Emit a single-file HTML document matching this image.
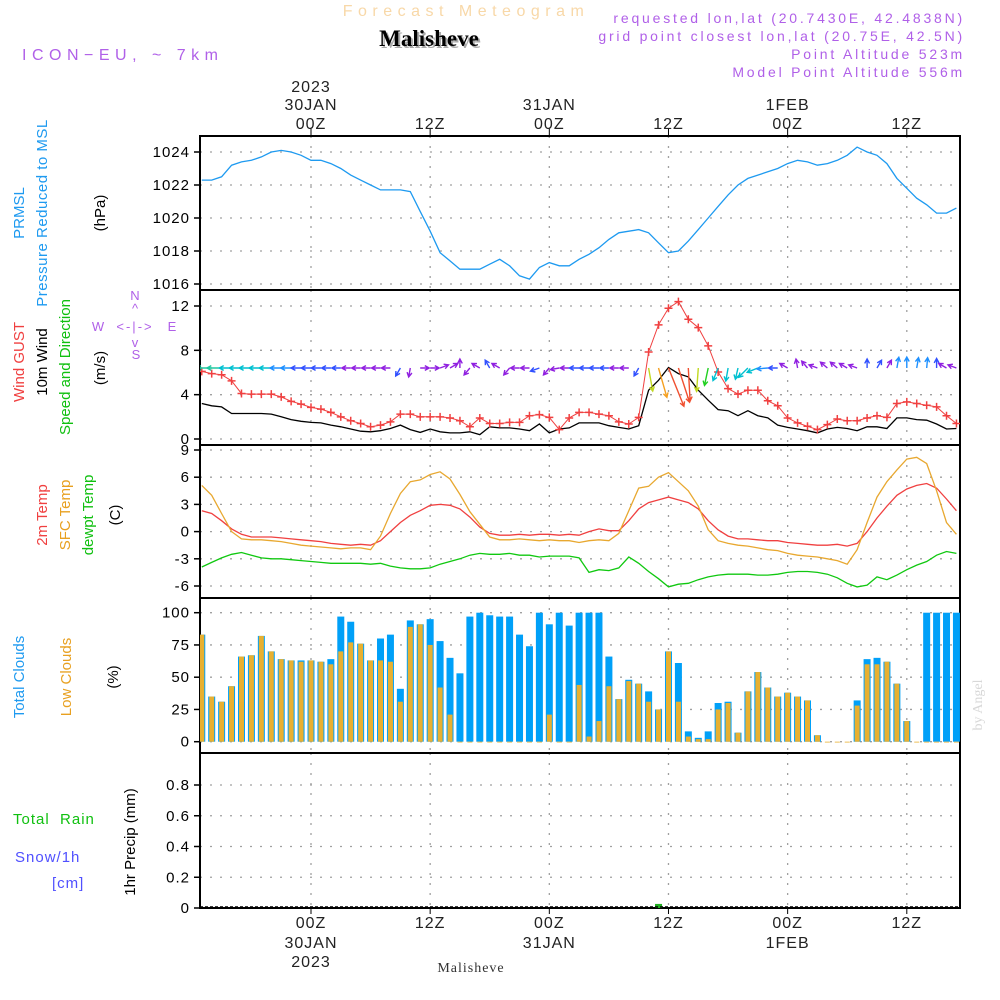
<!DOCTYPE html>
<html><head><meta charset="utf-8"><style>
html,body{margin:0;padding:0;background:#fff;width:1000px;height:1000px;overflow:hidden}
svg{display:block;font-family:"Liberation Sans",sans-serif}
</style></head><body>
<svg id="chart" width="1000" height="1000" viewBox="0 0 1000 1000">
<text x="466" y="16" font-size="16" fill="#f8d8a8" text-anchor="middle" letter-spacing="5.5">Forecast Meteogram</text>
<text x="431" y="48" font-size="23" font-weight="bold" font-family="Liberation Serif,serif" fill="#aaa" text-anchor="middle">Malisheve</text>
<text x="429" y="46" font-size="23" font-weight="bold" font-family="Liberation Serif,serif" fill="#000" text-anchor="middle">Malisheve</text>
<text x="22" y="60" font-size="16" fill="#b060e8" letter-spacing="5.5">ICON−EU, ~ 7km</text>
<g font-size="14" fill="#b060e8" text-anchor="end" letter-spacing="2.8">
<text x="965" y="23">requested lon,lat (20.7430E, 42.4838N)</text>
<text x="965" y="41">grid point closest lon,lat (20.75E, 42.5N)</text>
<text x="965" y="59">Point Altitude 523m</text>
<text x="965" y="77">Model Point Altitude 556m</text>
</g>
<g id="axes"></g>
<g id="marks"></g>
<g font-size="15" fill="#000">
<text transform="translate(24,213) rotate(-90)" text-anchor="middle" fill="#1e9af0">PRMSL</text>
<text transform="translate(47,213) rotate(-90)" text-anchor="middle" fill="#1e9af0" letter-spacing="0.5">Pressure Reduced to MSL</text>
<text transform="translate(105,213) rotate(-90)" text-anchor="middle">(hPa)</text>
<text transform="translate(24,362) rotate(-90)" text-anchor="middle" fill="#f04040">Wind GUST</text>
<text transform="translate(47,362) rotate(-90)" text-anchor="middle">10m Wind</text>
<text transform="translate(70,367) rotate(-90)" text-anchor="middle" fill="#10c010">Speed and Direction</text>
<text transform="translate(105,368) rotate(-90)" text-anchor="middle">(m/s)</text>
<text transform="translate(47,515) rotate(-90)" text-anchor="middle" fill="#f04040">2m Temp</text>
<text transform="translate(70,515) rotate(-90)" text-anchor="middle" fill="#e8a020">SFC Temp</text>
<text transform="translate(93,515) rotate(-90)" text-anchor="middle" fill="#10c010">dewpt Temp</text>
<text transform="translate(120,515) rotate(-90)" text-anchor="middle">(C)</text>
<text transform="translate(24,677) rotate(-90)" text-anchor="middle" fill="#1e9af0">Total Clouds</text>
<text transform="translate(71,677) rotate(-90)" text-anchor="middle" fill="#e8a020">Low Clouds</text>
<text transform="translate(118,677) rotate(-90)" text-anchor="middle">(%)</text>
<text x="13" y="824" fill="#10c010" xml:space="preserve" letter-spacing="1">Total  Rain</text>
<text x="15" y="862" fill="#5050ff" letter-spacing="1">Snow/1h</text>
<text x="52" y="888" fill="#5050ff" letter-spacing="1">[cm]</text>
<text transform="translate(135,842) rotate(-90)" text-anchor="middle">1hr Precip (mm)</text>
</g>
<g font-size="13" fill="#b060e8" text-anchor="middle">
<text x="135" y="300">N</text><text x="135" y="313">^</text>
<text x="98" y="331">W</text><text x="135" y="331" letter-spacing="2">&lt;-|-&gt;</text><text x="172" y="331">E</text>
<text x="135" y="347">v</text><text x="136" y="359">S</text>
</g>
<text transform="translate(982,705) rotate(-90)" font-size="14" font-family="Liberation Serif,serif" fill="#d8d8d8" text-anchor="middle">by Angel</text>
<text x="471" y="972" font-size="14" font-family="Liberation Serif,serif" fill="#333" text-anchor="middle" letter-spacing="1">Malisheve</text>
</svg>
<script>
const hours = [];for (let h = -11; h <= 65; h++) hours.push(h);
const pressure = [1022.3,1022.3,1022.5,1023.2,1023.4,1023.5,1023.7,1024.0,1024.1,1024.0,1023.8,1023.5,1023.5,1023.3,1023.0,1022.6,1022.3,1022.0,1021.7,1021.7,1021.7,1021.6,1020.4,1019.2,1017.9,1017.4,1016.9,1016.9,1016.9,1017.2,1017.5,1017.1,1016.5,1016.3,1017.0,1017.3,1017.1,1017.1,1017.5,1017.8,1018.2,1018.7,1019.1,1019.2,1019.3,1019.1,1018.5,1017.9,1018.0,1018.6,1019.3,1020.0,1020.7,1021.4,1022.0,1022.4,1022.6,1022.8,1023.0,1023.3,1023.5,1023.4,1023.2,1023.3,1023.5,1023.8,1024.3,1024.0,1023.8,1023.3,1022.4,1021.8,1021.2,1020.8,1020.3,1020.3,1020.6];
const gust = [6.1,5.9,5.8,5.25,4.1,4.05,4.05,4.05,3.8,3.4,3.15,2.85,2.7,2.4,2.0,1.65,1.4,1.1,1.25,1.55,2.25,2.25,2.0,2.0,2.0,1.9,1.65,1.1,1.9,1.4,1.4,1.5,1.5,2.1,2.2,1.95,0.85,1.9,2.4,2.4,2.25,2.1,1.55,1.35,1.95,7.85,10.3,11.8,12.4,10.8,10.05,8.4,6.05,4.55,4.05,4.4,4.4,3.45,3.0,1.9,1.45,1.15,0.85,1.3,1.8,1.65,1.65,1.9,2.1,1.95,3.2,3.35,3.2,3.05,2.9,2.1,1.4];
const wind = [3.2,3.0,2.9,2.3,2.3,2.3,2.3,2.25,2.0,1.75,1.6,1.5,1.45,1.25,1.1,0.9,0.7,0.65,0.75,0.95,1.25,0.85,0.6,0.9,0.65,0.55,0.55,0.65,0.4,1.1,1.0,1.0,0.9,0.75,1.35,0.55,0.9,1.0,1.45,1.45,1.45,1.2,1.05,0.9,1.2,4.4,5.3,6.45,5.9,5.6,4.4,3.5,2.65,2.55,2.1,2.55,2.1,1.9,1.25,1.05,0.9,0.75,0.55,0.9,1.05,0.95,0.75,1.1,1.1,0.95,1.9,1.9,1.75,1.7,1.35,0.9,0.95];
const windArrowAngle = [180,180,180,180,180,180,180,180,180,180,180,180,180,180,180,180,180,180,180,180,120,100,0,0,-20,-30,-90,130,-150,-120,-150,130,180,180,160,130,170,180,180,180,180,180,180,180,120,80,74,68,72,87,94,102,112,100,103,135,158,175,180,-150,-100,-130,-160,-140,-140,-150,-160,-90,-60,-60,-80,-90,-80,-85,-90,-150,-160];
const temp2m = [2.3,2.0,1.2,0.3,-0.3,-0.6,-0.6,-0.6,-0.7,-0.8,-0.9,-1.0,-1.1,-1.3,-1.4,-1.5,-1.4,-1.5,-1.0,0.0,1.0,1.8,2.3,2.9,3.0,2.9,2.5,1.6,0.5,-0.2,-0.4,-0.4,-0.3,-0.4,-0.3,-0.3,-0.4,-0.3,-0.4,0.0,0.3,0.1,0.1,1.2,2.5,3.2,3.5,3.8,3.5,3.2,2.5,1.2,0.2,-0.5,-0.8,-0.8,-0.9,-1.0,-1.0,-1.2,-1.3,-1.4,-1.5,-1.5,-1.4,-1.6,-1.3,0.0,1.5,2.8,4.0,4.7,5.1,5.3,4.8,3.6,2.3];
const tempSfc = [5.1,4.0,2.0,0.0,-0.8,-0.9,-0.9,-1.0,-1.1,-1.3,-1.5,-1.6,-1.7,-1.8,-1.9,-1.8,-1.8,-2.0,-0.5,2.0,4.2,5.5,5.7,6.3,6.6,5.8,4.1,2.2,0.8,-0.6,-0.9,-0.9,-0.8,-0.9,-1.0,-0.9,-1.0,-1.0,-1.2,-1.0,-0.9,-1.0,-0.2,2.3,4.8,5.0,6.0,6.5,5.5,4.5,2.8,0.2,-1.0,-1.3,-1.5,-1.6,-1.8,-2.0,-2.1,-2.4,-2.6,-2.7,-2.8,-3.0,-3.2,-3.6,-2.0,1.0,3.8,5.5,6.8,8.0,8.2,7.5,4.5,1.0,-0.3];
const dewpt = [-3.9,-3.4,-2.9,-2.5,-2.3,-2.6,-2.9,-3.0,-3.0,-3.1,-3.2,-3.3,-3.4,-3.5,-3.5,-3.5,-3.5,-3.6,-3.5,-3.8,-4.0,-4.1,-4.1,-4.0,-3.6,-3.3,-3.0,-2.6,-2.4,-2.5,-2.5,-2.4,-2.6,-2.6,-2.8,-2.7,-2.7,-2.7,-2.9,-4.5,-4.2,-4.3,-4.0,-2.8,-3.5,-4.4,-5.2,-6.1,-5.8,-5.7,-5.3,-5.0,-4.8,-4.7,-4.7,-4.7,-4.8,-4.8,-4.7,-4.5,-4.4,-4.4,-4.5,-4.7,-5.1,-5.7,-6.1,-5.9,-5.0,-5.3,-4.8,-4.2,-3.7,-3.3,-2.6,-2.2,-2.4];
const totalClouds = [83,35,31,43,66,67,82,70,64,63,63,63,62,64,97,93,76,63,80,83,41,94,91,95,78,65,53,97,100,98,97,97,83,74,100,91,100,90,100,100,100,66,33,48,45,39,25,70,61,8,3,8,30,31,7,39,54,42,35,38,35,32,5,0,0,0,32,64,65,62,45,16,0,100,100,100,100];
const lowClouds = [83,35,31,43,66,67,82,70,64,63,62,63,62,60,70,77,76,63,63,62,31,89,91,75,42,21,0,0,0,0,0,0,0,0,0,21,0,0,44,4,16,43,33,47,45,31,25,70,31,4,2,2,25,30,7,39,54,42,35,38,35,32,5,0,0,0,28,60,60,62,45,16,0,0,0,0,0];
const precip = hours.map(h => h === 35 ? 0.02 : 0);
const pTicks = [1016,1018,1020,1022,1024];
const wTicks = [0,4,8,12];
const tTicks = [-6,-3,0,3,6,9];
const cTicks = [0,25,50,75,100];
const rTicks = [0,0.2,0.4,0.6,0.8];
const timeTicks = [0,12,24,36,48,60];
const timeLabels = [["2023","30JAN","00Z"],["","","12Z"],["","31JAN","00Z"],["","","12Z"],["","1FEB","00Z"],["","","12Z"]];

const NS='http://www.w3.org/2000/svg';
const axes=document.getElementById('axes'), marks=document.getElementById('marks');
function mk(tag,attrs,parent){const e=document.createElementNS(NS,tag);for(const k in attrs)e.setAttribute(k,attrs[k]);(parent||marks).appendChild(e);return e;}
const X0=200,X1=960;
const xs=h=>311+9.93*h;
const lin=(d0,d1,r0,r1)=>v=>r0+(v-d0)*(r1-r0)/(d1-d0);
const yP=lin(1016,1024,284,152), yW=lin(0,12,439,306), yT=lin(-6,9,586,450), yC=lin(0,100,741.7,612.7), yR=lin(0,0.8,908,785);
const panels=[{t:136,b:290,y:yP,ticks:pTicks,fmt:v=>String(v),n:'pressure'},{t:290,b:445,y:yW,ticks:wTicks,fmt:v=>String(v),n:'wind'},{t:445,b:598,y:yT,ticks:tTicks,fmt:v=>String(v),n:'temperature'},{t:598,b:753,y:yC,ticks:cTicks,fmt:v=>String(v),n:'clouds'},{t:753,b:908,y:yR,ticks:rTicks,fmt:v=>v===0?'0':v.toFixed(1),n:'precip'}];
panels.forEach(p=>{
  p.ticks.forEach(v=>{const y=p.y(v);
    let g=mk('line',{x1:X0,x2:X1,y1:y,y2:y,stroke:'#a0a0a0','stroke-width':1.3,'stroke-dasharray':'2,8'},axes);
    
    let tk=mk('line',{x1:X0-6,x2:X0,y1:y,y2:y,stroke:'#000','stroke-width':1.5},axes);
    
    let t=mk('text',{x:X0-10,y:y+5,'font-size':15,'text-anchor':'end',fill:'#000','letter-spacing':1},axes);t.textContent=p.fmt(v);
    
  });
  timeTicks.forEach(h=>{const x=xs(h);
    let g=mk('line',{x1:x,x2:x,y1:p.t,y2:p.b,stroke:'#a0a0a0','stroke-width':1.3,'stroke-dasharray':'2,8'},axes);
    });
  let r=mk('rect',{x:X0,y:p.t,width:X1-X0,height:p.b-p.t,fill:'none',stroke:'#000','stroke-width':2},axes);
  
});
timeTicks.forEach((h,i)=>{const x=xs(h);
  let a=mk('line',{x1:x,x2:x,y1:128,y2:136,stroke:'#000'},axes);
  let b=mk('line',{x1:x,x2:x,y1:908,y2:914,stroke:'#000'},axes);
  const L=timeLabels[i];
  [[L[0],92],[L[1],110],[L[2],129]].forEach(([s,y])=>{if(!s)return;let t=mk('text',{x:x,y:y,'font-size':16,'text-anchor':'middle',fill:'#222','letter-spacing':1},axes);t.textContent=s;});
  [[L[2],928],[L[1],948],[L[0],967]].forEach(([s,y])=>{if(!s)return;let t=mk('text',{x:x,y:y,'font-size':16,'text-anchor':'middle',fill:'#222','letter-spacing':1},axes);t.textContent=s;});
});
const clip=mk('clipPath',{id:'pc'},marks);mk('rect',{x:X0,y:130,width:X1-X0,height:790},clip);
const gm=mk('g',{'clip-path':'url(#pc)'},marks);
function line(arr,yf,col,name,w){const d=arr.map((v,i)=>(i?'L':'M')+xs(hours[i]).toFixed(1)+','+yf(v).toFixed(1)).join('');
  const e=mk('path',{d:d,fill:'none',stroke:col,'stroke-width':w||1.3},gm);return e;}
line(pressure,yP,'#1e9af0','pressure-line');
totalClouds.forEach((v,i)=>{const x=xs(hours[i]);
  let b=mk('rect',{x:x-3.5,y:yC(v),width:7,height:yC(0)-yC(v),fill:'#00a0f8'},gm);
  const lv=lowClouds[i];
  let l=mk('rect',{x:x-2.5,y:yC(lv),width:5,height:Math.max(yC(0)-yC(lv),0.8),fill:'#e8b030'},gm);
});
precip.forEach((v,i)=>{if(v<=0)return;const x=xs(hours[i]);let b=mk('rect',{x:x-3.5,y:yR(v)-1,width:7,height:yR(0)-yR(v)+1,fill:'#20b020'},gm);});
let base=mk('line',{x1:X0,x2:X1,y1:907,y2:907,stroke:'#000','stroke-width':1.5,'stroke-dasharray':'3,2'},gm);
line(temp2m,yT,'#f04040','temp-2m-line');
line(tempSfc,yT,'#e8a830','temp-sfc-line');
line(dewpt,yT,'#10c810','dewpoint-line');
line(wind,yW,'#000','wind-speed-line');
line(gust,yW,'#f04040','wind-gust-line',1);
gust.forEach((v,i)=>{const x=xs(hours[i]),y=yW(v);
  let p=mk('path',{d:`M${x-4},${y}H${x+4}M${x},${y-4}V${y+4}`,stroke:'#f04040','stroke-width':1.5},gm);
  });
function wcol(s){if(s<1.1)return'#9020e0';if(s<1.7)return'#3050ff';if(s<2.1)return'#1e90ff';if(s<2.8)return'#00c0d0';if(s<3.3)return'#20c8a0';if(s<3.8)return'#20d020';if(s<4.6)return'#c0d820';if(s<5.5)return'#f5a020';return'#f05030';}
wind.forEach((s,i)=>{const x0=xs(hours[i]),y0=368,a=windArrowAngle[i]*Math.PI/180,L=Math.max(9,8+0.8*s*s);
  const x1=x0+L*Math.cos(a),y1=y0+L*Math.sin(a),hx=5;
  const b1=a+Math.PI-0.5,b2=a+Math.PI+0.5;
  const d=`M${x0.toFixed(1)},${y0}L${x1.toFixed(1)},${y1.toFixed(1)}M${(x1+hx*Math.cos(b1)).toFixed(1)},${(y1+hx*Math.sin(b1)).toFixed(1)}L${x1.toFixed(1)},${y1.toFixed(1)}L${(x1+hx*Math.cos(b2)).toFixed(1)},${(y1+hx*Math.sin(b2)).toFixed(1)}`;
  let p=mk('path',{d:d,fill:'none',stroke:wcol(s),'stroke-width':1.4},gm);
  });
</script>
</body></html>
